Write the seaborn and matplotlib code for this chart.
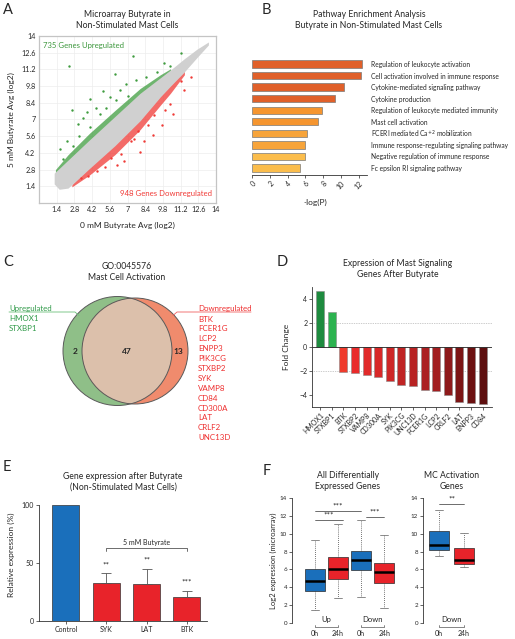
# Butyrate in mast cells - composite figure (panels A-F)
# microarray scatter, pathway enrichment, Venn, fold change, qPCR, boxplots

import matplotlib
matplotlib.use("Agg")
import matplotlib.pyplot as plt
import seaborn as sns
from matplotlib.patches import Circle

sns.set_style("ticks")
plt.rcParams["font.family"] = ["Lato", "DejaVu Sans"]
plt.rcParams["font.size"] = 5
plt.rcParams["axes.linewidth"] = 0.6
plt.rcParams["axes.edgecolor"] = "#333333"
plt.rcParams["xtick.labelsize"] = 5
plt.rcParams["ytick.labelsize"] = 5
plt.rcParams["xtick.major.size"] = 2
plt.rcParams["ytick.major.size"] = 2
plt.rcParams["xtick.major.width"] = 0.5
plt.rcParams["ytick.major.width"] = 0.5
plt.rcParams["xtick.major.pad"] = 1.5
plt.rcParams["ytick.major.pad"] = 1.5

# -------------------------
# Daten
# -------------------------
# A: dichte graue Punktwolke als Band, Ausreisser als Punkte
band_x = [1.2, 1.6, 2.3, 4.0, 6.0, 8.0, 9.6, 10.4, 11.5, 12.5, 13.4]
band_lo = [1.6, 1.15, 1.25, 2.9, 4.8, 6.9, 8.9, 9.8, 11.0, 12.2, 13.25]
band_hi = [2.5, 2.9, 3.6, 5.3, 7.25, 9.2, 10.5, 11.15, 12.1, 12.9, 13.5]
up_band_x = [1.3, 2.3, 4.0, 6.0, 8.0, 9.6, 10.4]
up_band_lo = [2.4, 3.5, 5.2, 7.15, 9.1, 10.4, 11.1]
up_band_hi = [2.8, 4.05, 5.85, 7.75, 9.6, 10.75, 11.25]
dn_band_x = [2.6, 4.0, 6.0, 8.0, 9.6, 10.4, 11.5]
dn_band_lo = [1.35, 2.35, 4.05, 6.15, 8.2, 9.2, 10.75]
dn_band_hi = [1.55, 3.0, 4.9, 7.0, 9.0, 9.9, 11.05]
up_x = [2.4, 6.0, 7.4, 11.2, 10.4, 4.0, 2.6, 5.1, 4.5, 3.5, 3.1, 2.2, 1.65, 1.9, 6.4,
        6.9, 7.7, 8.5, 9.3, 5.6, 4.8, 4.0, 3.2, 2.7, 9.9, 5.3, 6.1, 7.0, 3.8]
up_y = [11.5, 10.8, 12.3, 12.6, 11.5, 8.75, 7.8, 9.4, 8.0, 7.1, 6.6, 5.2, 4.5, 3.7, 9.5,
        10.0, 10.3, 10.6, 11.0, 8.9, 7.5, 6.4, 5.6, 4.8, 11.7, 8.0, 8.6, 9.0, 7.6]
dn_x = [11.2, 12.0, 11.5, 10.0, 10.4, 9.1, 8.6, 9.0, 7.8, 7.3, 6.5, 6.7, 5.7, 5.2, 4.6,
        3.9, 3.3, 8.0, 9.7, 10.6, 7.5, 6.2, 8.3]
dn_y = [10.2, 10.6, 9.5, 7.8, 8.3, 7.4, 6.5, 5.7, 6.0, 5.2, 4.1, 3.5, 3.8, 3.0, 2.7,
        2.3, 2.1, 4.3, 6.5, 7.5, 5.4, 3.2, 5.2]
a_ticks = [1.4, 2.8, 4.2, 5.6, 7, 8.4, 9.8, 11.2, 12.6, 14]
a_ticklabels = ["1.4", "2.8", "4.2", "5.6", "7", "8.4", "9.8", "11.2", "12.6", "14"]

# B: Pathway Enrichment
path_names = ["Regulation of leukocyte activation",
              "Cell activation involved in immune response",
              "Cytokine-mediated signaling pathway",
              "Cytokine production",
              "Regulation of leukocyte mediated immunity",
              "Mast cell activation",
              r"FCERI mediated Ca$^{+2}$ mobilization",
              "Immune response-regulating signaling pathway",
              "Negative regulation of immune response",
              "Fc epsilon RI signaling pathway"]
path_vals = [12.35, 12.25, 10.35, 9.3, 7.85, 7.4, 6.2, 5.95, 5.9, 5.4]
path_colors = ["#e0602a", "#e0602a", "#e0602a", "#e0602a", "#f5952f",
               "#f5952f", "#f7a43a", "#f7a43a", "#fbbd4c", "#fbbd4c"]
b_ticks = [0, 2, 4, 6, 8, 10, 12]

# C: Venn
venn_counts = ["2", "47", "13"]
up_genes = ["HMOX1", "STXBP1"]
down_genes = ["BTK", "FCER1G", "LCP2", "ENPP3", "PIK3CG", "STXBP2", "SYK", "VAMP8",
              "CD84", "CD300A", "LAT", "CRLF2", "UNC13D"]

# D: Fold Change
d_genes = ["HMOX1", "STXBP1", "BTK", "STXBP2", "VAMP8", "CD300A", "SYK", "PIK3CG",
           "UNC13D", "FCER1G", "LCP2", "CRLF2", "LAT", "ENPP3", "CD84"]
d_fold = [4.7, 2.9, -2.1, -2.2, -2.3, -2.5, -2.8, -3.2, -3.25, -3.6, -3.7, -4.0,
          -4.55, -4.65, -4.75]
d_colors = ["#1e8b3f", "#2bb34f", "#ef3b2c", "#e92b2b", "#e12a2a", "#d82828", "#ce2626",
            "#c02424", "#b82323", "#ab2022", "#a31e20", "#8e1a1b", "#7c1515", "#6c1111",
            "#5e0f0f"]

# E: qPCR
e_names = ["Control", "SYK", "LAT", "BTK"]
e_vals = [100, 33, 32, 21]
e_err = [0, 8, 13, 5]
e_stars = ["", "**", "**", "***"]
e_colors = ["#1a6fbb", "#e8232a", "#e8232a", "#e8232a"]

# F: Boxplots (Log2 expression)
f_left_stats = [
    dict(whislo=1.5, q1=3.55, med=4.65, q3=6.0, whishi=9.35, fliers=[]),
    dict(whislo=2.85, q1=4.95, med=6.05, q3=7.4, whishi=11.05, fliers=[]),
    dict(whislo=2.9, q1=5.9, med=7.1, q3=8.1, whishi=11.55, fliers=[]),
    dict(whislo=1.7, q1=4.5, med=5.7, q3=6.7, whishi=9.85, fliers=[]),
]
f_right_stats = [
    dict(whislo=7.45, q1=8.15, med=8.75, q3=10.35, whishi=12.7, fliers=[]),
    dict(whislo=6.3, q1=6.65, med=7.1, q3=8.45, whishi=10.1, fliers=[]),
]
f_left_colors = ["#1a6fbb", "#e8232a", "#1a6fbb", "#e8232a"]
f_right_colors = ["#1a6fbb", "#e8232a"]
f_times = ["0h", "24h"]

# -------------------------
# Layout (Pixel -> Figurkoordinaten)
# -------------------------
W, H = 515, 639
fig = plt.figure(figsize=(W / 100, H / 100), dpi=100)


def px_box(l, t, r, b):
    return [l / W, 1 - b / H, (r - l) / W, (b - t) / H]


# -------------------------
# A: Scatter
# -------------------------
axA = fig.add_axes(px_box(39, 36, 216, 203))
axA.fill_between(up_band_x, up_band_lo, up_band_hi, color="#3f9c3f", lw=0, alpha=0.75)
axA.fill_between(dn_band_x, dn_band_lo, dn_band_hi, color="#f03a36", lw=0, alpha=0.75)
axA.fill_between(band_x, band_lo, band_hi, color="#d0d0d0", lw=0)
sns.scatterplot(x=up_x, y=up_y, color="#3f9c3f", s=3, linewidth=0, ax=axA)
sns.scatterplot(x=dn_x, y=dn_y, color="#f03a36", s=3, linewidth=0, ax=axA)
axA.set_xlim(0, 14)
axA.set_ylim(0, 14)
axA.set_xticks(a_ticks)
axA.set_xticklabels(a_ticklabels)
axA.set_yticks(a_ticks)
axA.set_yticklabels(a_ticklabels)
axA.grid(True, color="#ededed", lw=0.5)
axA.set_axisbelow(True)
for s in axA.spines.values():
    s.set_color("#c4c4c4")
    s.set_linewidth(0.9)
axA.tick_params(length=0, labelsize=5.2, pad=2.5)
axA.set_xlabel("0 mM Butyrate Avg (log2)", fontsize=6)
axA.set_ylabel("5 mM Butyrate Avg (log2)", fontsize=6)
axA.xaxis.set_label_coords(0.5, -0.115)
axA.yaxis.set_label_coords(-0.135, 0.5)
axA.text(0.023, 0.946, "735 Genes Upregulated", color="#3a963a", fontsize=5.6,
         transform=axA.transAxes, va="center", ha="left")
axA.text(0.977, 0.054, "948 Genes Downregulated", color="#f03a36", fontsize=5.6,
         transform=axA.transAxes, va="center", ha="right")

# -------------------------
# B: Pathway Enrichment
# -------------------------
axB = fig.add_axes(px_box(252, 57, 367, 175))
sns.barplot(x=path_vals, y=path_names, hue=path_names, palette=path_colors, legend=False,
            orient="h", width=0.62, saturation=1, edgecolor="#7a7a7a", linewidth=0.5, ax=axB)
axB.set_ylim(9.6, -0.6)
axB.set_xlim(0, 12.9)
axB.yaxis.tick_right()
axB.tick_params(axis="y", length=0, labelsize=4.8, pad=3)
axB.set_xticks(b_ticks)
axB.set_xticklabels([str(t) for t in b_ticks], rotation=45, ha="right",
                    rotation_mode="anchor")
axB.set_ylabel("")
axB.set_xlabel("-log(P)", fontsize=6)
axB.xaxis.set_label_coords(0.548, -0.2)
for side in ["left", "right", "top"]:
    axB.spines[side].set_visible(False)

# -------------------------
# D: Fold Change
# -------------------------
axD = fig.add_axes(px_box(312, 287, 492, 407))
axD.axhline(2, color="#9a9a9a", lw=0.5, ls=(0, (1, 1.5)), zorder=0)
axD.axhline(-2, color="#9a9a9a", lw=0.5, ls=(0, (1, 1.5)), zorder=0)
sns.barplot(x=d_genes, y=d_fold, hue=d_genes, palette=d_colors, legend=False,
            width=0.69, saturation=1, edgecolor="#8a8a8a", linewidth=0.4, ax=axD)
axD.axhline(0, color="#222222", lw=0.6)
axD.set_ylim(-5, 5)
axD.set_xlim(-0.7, 14.8)
axD.set_yticks([-4, -2, 0, 2, 4])
axD.set_xticks(range(len(d_genes)))
axD.set_xticklabels(d_genes, rotation=45, ha="right", rotation_mode="anchor")
axD.set_ylabel("Fold Change", fontsize=6)
axD.yaxis.set_label_coords(-0.12, 0.5)
sns.despine(ax=axD)

# -------------------------
# E: qPCR Balken
# -------------------------
axE = fig.add_axes(px_box(39, 505, 207, 621))
sns.barplot(x=e_names, y=e_vals, hue=e_names, palette=e_colors, legend=False,
            width=0.67, saturation=1, edgecolor="#333333", linewidth=0.5, ax=axE)
axE.errorbar(range(1, 4), e_vals[1:], yerr=[[0, 0, 0], e_err[1:]], fmt="none",
             ecolor="#555555", elinewidth=0.6, capsize=3.5, capthick=0.6)
for i, (v, err, st) in enumerate(zip(e_vals, e_err, e_stars)):
    if st:
        axE.text(i, v + err + 7.5, st, ha="center", va="center", fontsize=6)
axE.plot([1, 1, 3, 3], [60, 63, 63, 60], color="#555555", lw=0.6)
axE.text(2, 65, "5 mM Butyrate", ha="center", va="bottom", fontsize=5)
axE.set_ylim(0, 100)
axE.set_xlim(-0.67, 3.5)
axE.set_yticks([0, 50, 100])
axE.set_ylabel("Relative expression (%)", fontsize=6)
axE.yaxis.set_label_coords(-0.14, 0.57)
sns.despine(ax=axE)


# -------------------------
# F: Boxplots
# -------------------------
def draw_boxes(ax, stats, colors, width):
    bp = ax.bxp(stats, positions=range(1, len(stats) + 1), widths=width,
                patch_artist=True, showfliers=False, capwidths=width * 0.4,
                boxprops=dict(edgecolor="#2a2a2a", linewidth=0.5),
                medianprops=dict(color="black", linewidth=1.8),
                whiskerprops=dict(color="#444444", linewidth=0.6, linestyle=(0, (1, 1.5))),
                capprops=dict(color="#777777", linewidth=0.6))
    for patch, c in zip(bp["boxes"], colors):
        patch.set_facecolor(c)
    ax.set_ylim(0, 14)
    ax.set_yticks(range(0, 15, 2))
    ax.tick_params(axis="y", labelsize=4.5)
    ax.set_xticks([])
    for side in ["bottom", "right", "top"]:
        ax.spines[side].set_visible(False)


def sig_line(ax, x1, x2, y, label):
    ax.plot([x1, x2], [y, y], color="#333333", lw=0.5)
    ax.text((x1 + x2) / 2, y + 0.15, label, ha="center", va="bottom", fontsize=6)


def group_bracket(ax, x1, x2, label):
    ax.plot([x1, x1, x2, x2], [-0.2, -0.45, -0.45, -0.2], color="#555555", lw=0.5,
            clip_on=False)
    ax.text((x1 + x2) / 2, 0.35, label, ha="center", va="center", fontsize=5.5)
    for x, t in zip([x1, x2], f_times):
        ax.text(x, -1.2, t, ha="center", va="center", fontsize=5)


axF1 = fig.add_axes(px_box(292, 498, 398, 623))
draw_boxes(axF1, f_left_stats, f_left_colors, 0.87)
axF1.set_xlim(0, 4.6)
sig_line(axF1, 1, 2.2, 11.5, "***")
sig_line(axF1, 1, 3, 12.6, "***")
sig_line(axF1, 3.2, 4, 11.9, "***")
group_bracket(axF1, 1, 2, "Up")
group_bracket(axF1, 3, 4, "Down")
axF1.set_ylabel("Log2 expression (microarray)", fontsize=5.5)
axF1.yaxis.set_label_coords(-0.14, 0.5)

axF2 = fig.add_axes(px_box(423, 498, 480, 623))
draw_boxes(axF2, f_right_stats, f_right_colors, 0.8)
axF2.set_xlim(0.36, 2.64)
sig_line(axF2, 1, 2, 13.3, "**")
group_bracket(axF2, 1, 2, "Down")

# -------------------------
# Overlay: Titel, Buchstaben, Venn (C)
# -------------------------
ov = fig.add_axes([0, 0, 1, 1])
ov.set_xlim(0, W)
ov.set_ylim(H, 0)
ov.axis("off")

for letter, x, y in [("A", 3, 10), ("B", 262, 10), ("C", 3, 262), ("D", 277, 262),
                     ("E", 3, 467), ("F", 263, 471)]:
    ov.text(x, y, letter, fontsize=10.5, ha="left", va="center")

titles = [
    ("Microarray Butyrate in\nNon-Stimulated Mast Cells", 127, 20),
    ("Pathway Enrichment Analysis\nButyrate in Non-Stimulated Mast Cells", 369, 20),
    ("GO:0045576\nMast Cell Activation", 127, 272),
    ("Expression of Mast Signaling\nGenes After Butyrate", 398, 269),
    ("Gene expression after Butyrate\n(Non-Stimulated Mast Cells)", 123, 482),
    ("All Differentially\nExpressed Genes", 348, 481),
    ("MC Activation\nGenes", 452, 481),
]
for txt, x, y in titles:
    ov.text(x, y, txt, fontsize=6.2, ha="center", va="center", linespacing=1.25)

# Venn
green_c = Circle((117.5, 351), 54.5, facecolor="#8fbf88", edgecolor="none")
orange_c = Circle((135, 351), 53, facecolor="#f08b6d", edgecolor="none")
ov.add_patch(green_c)
ov.add_patch(orange_c)
overlap = Circle((117.5, 351), 54.5, facecolor="#dcc0ab", edgecolor="none")
ov.add_patch(overlap)
overlap.set_clip_path(orange_c)
ov.add_patch(Circle((117.5, 351), 54.5, fill=False, edgecolor="#5a5a5a", lw=0.7))
ov.add_patch(Circle((135, 351), 53, fill=False, edgecolor="#5a5a5a", lw=0.7))
for txt, x in zip(venn_counts, [75, 127, 178]):
    ov.text(x, 352, txt, fontsize=6, ha="center", va="center", fontweight="bold")

green_txt = "#2f9a48"
red_txt = "#ee2c2c"
ov.text(9, 308, "Upregulated", color=green_txt, fontsize=5.7, ha="left", va="center")
ov.plot([9, 75, 79], [312, 312, 315.5], color="#6cc07a", lw=0.6)
for i, g in enumerate(up_genes):
    ov.text(9, 318.5 + 10 * i, g, color=green_txt, fontsize=5.7, ha="left", va="center")
ov.text(198, 308, "Downregulated", color=red_txt, fontsize=5.7, ha="left", va="center")
ov.plot([251, 177, 173], [312, 312, 315.5], color="#f06060", lw=0.6)
for i, g in enumerate(down_genes):
    ov.text(198, 319 + 9.9 * i, g, color=red_txt, fontsize=5.7, ha="left", va="center")

fig.savefig("out.png", dpi=100)
